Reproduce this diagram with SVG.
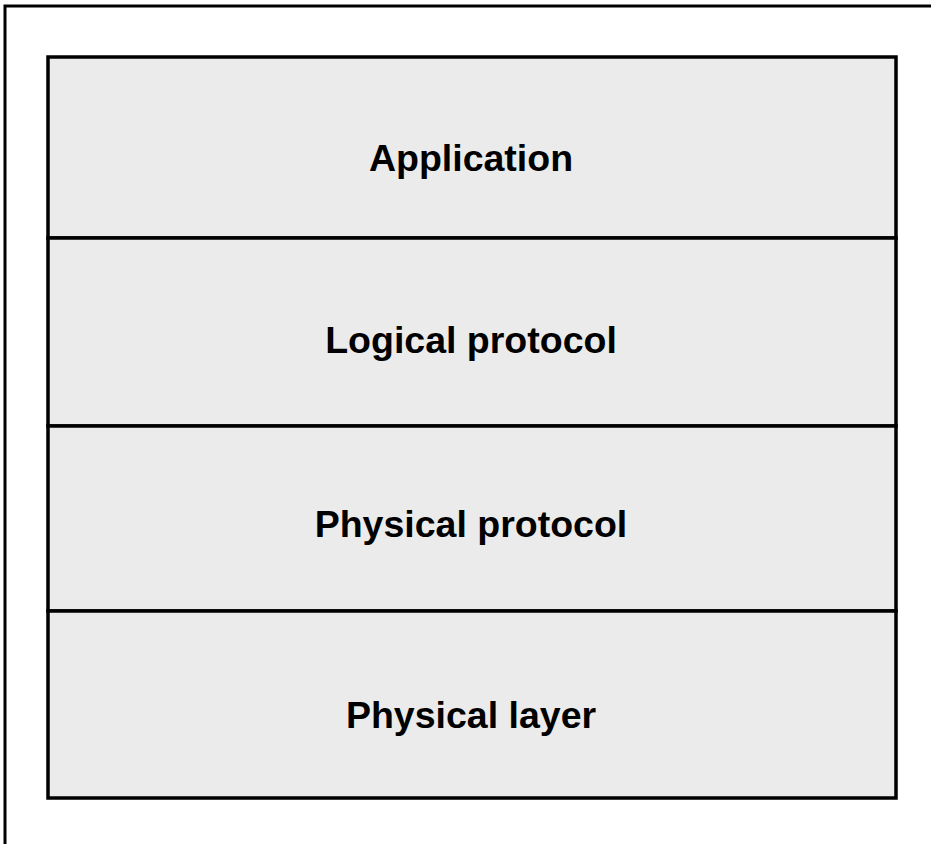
<svg xmlns="http://www.w3.org/2000/svg" width="931" height="844" viewBox="0 0 931 844">
<style>
.frame{fill:none;stroke:#000;stroke-width:3}
.layer{fill:#ebebeb;stroke:#000;stroke-width:3.5}
.lbl{font-family:"Liberation Sans",Arial,sans-serif;font-weight:bold;font-size:37.5px;fill:#000;text-anchor:middle}
</style>
<rect width="931" height="844" fill="#fff"/>
<path class="frame" d="M5,850 V6 H940"/>
<g id="application"><rect class="layer" x="48" y="57" width="848" height="181"/><text class="lbl" x="471" y="171">Application</text></g>
<g id="logical-protocol"><rect class="layer" x="48" y="238" width="848" height="188"/><text class="lbl" x="471" y="353">Logical protocol</text></g>
<g id="physical-protocol"><rect class="layer" x="48" y="426" width="848" height="185"/><text class="lbl" x="471" y="537">Physical protocol</text></g>
<g id="physical-layer"><rect class="layer" x="48" y="611" width="848" height="187"/><text class="lbl" x="471" y="728">Physical layer</text></g>
<g id="connectors"></g>
</svg>
